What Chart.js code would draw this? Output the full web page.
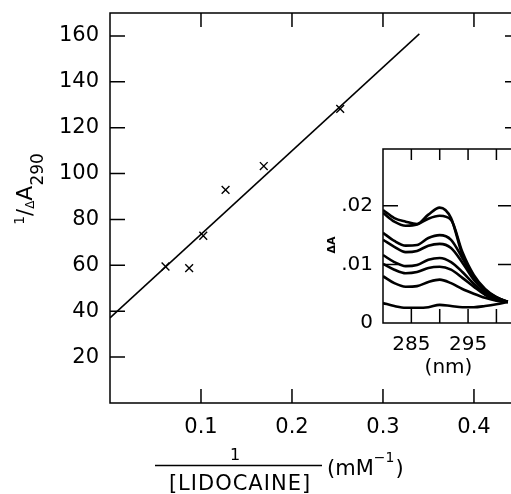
<!DOCTYPE html>
<html>
<head>
<meta charset="utf-8">
<script src="https://cdn.jsdelivr.net/npm/chart.js@4/dist/chart.umd.min.js"></script>
<style>
    html, body { margin: 0; padding: 0; background: #fff; overflow: hidden; width: 511px; height: 494px; }
    #main { position: absolute; left: 0; top: 0; }
    #inset { position: absolute; left: 310px; top: 145px; }
</style>
</head>
<body>
<canvas id="main" width="530" height="494"></canvas>
<canvas id="inset" width="220" height="235"></canvas>
<script>
// main plot: 1/dA290 vs 1/[lidocaine]
const recipConc = [0.061, 0.087, 0.1025, 0.127, 0.169, 0.253];
const recipAbs = [59.5, 58.8, 72.9, 92.9, 103.3, 128.2];
const fitConc = [0, 0.34];
const fitAbs = [37.1, 160.9];
const xTickVals = [0.1, 0.2, 0.3, 0.4];
const yTickVals = [20, 40, 60, 80, 100, 120, 140, 160];

// inset: difference spectra
const wavelengths = [280, 282, 284, 286, 288, 290, 292, 294, 296, 298, 300, 302];
const spec1 = [0.0193, 0.0179, 0.0173, 0.0169, 0.0185, 0.0197, 0.0179, 0.0116, 0.0077, 0.0055, 0.0043, 0.0036];
const spec2 = [0.0188, 0.0173, 0.0166, 0.0168, 0.0178, 0.0183, 0.0176, 0.0121, 0.0082, 0.0058, 0.0044, 0.0036];
const spec3 = [0.0154, 0.0140, 0.0132, 0.0133, 0.0145, 0.0150, 0.0142, 0.0111, 0.0079, 0.0056, 0.0044, 0.0036];
const spec4 = [0.0142, 0.0130, 0.0121, 0.0123, 0.0132, 0.0135, 0.0128, 0.0103, 0.0074, 0.0055, 0.0043, 0.0036];
const spec5 = [0.0116, 0.0104, 0.0097, 0.0099, 0.0108, 0.0111, 0.0104, 0.0087, 0.0067, 0.0051, 0.0041, 0.0036];
const spec6 = [0.0101, 0.0091, 0.0085, 0.0087, 0.0094, 0.0096, 0.0091, 0.0077, 0.0062, 0.0048, 0.0039, 0.0036];
const spec7 = [0.0080, 0.0068, 0.0062, 0.0063, 0.0070, 0.0074, 0.0068, 0.0058, 0.0050, 0.0043, 0.0038, 0.0036];
const spec8 = [0.0034, 0.0029, 0.0026, 0.0026, 0.0027, 0.0031, 0.0029, 0.0027, 0.0027, 0.0029, 0.0032, 0.0036];
const insetXTicks = [285, 290, 295, 300];
const insetXLabels = ['285', '', '295', ''];
const insetYTicks = [0, 0.01, 0.02];
const insetYLabels = ['0', '.01', '.02'];

const FONT = 'DejaVu Sans';

// no extra padding for labels near the edges
function noPad(s) {
    s.paddingTop = 0; s.paddingBottom = 0; s.paddingLeft = 0; s.paddingRight = 0;
}

// frame + ticks pointing inward
const innerTicks = {
    id: 'innerTicks',
    afterDraw(chart, args, o) {
        const { ctx, chartArea: a, scales: { x, y } } = chart;
        ctx.save();
        ctx.strokeStyle = '#000';
        ctx.lineWidth = 1.5;
        ctx.beginPath();
        ctx.rect(a.left, a.top, a.right - a.left, a.bottom - a.top);
        o.xTicks.forEach(v => {
            const px = x.getPixelForValue(v);
            ctx.moveTo(px, a.bottom); ctx.lineTo(px, a.bottom - o.bottomLen);
            ctx.moveTo(px, a.top); ctx.lineTo(px, a.top + o.topLen);
        });
        o.yTicks.forEach(v => {
            if (v === 0) return;
            const py = y.getPixelForValue(v);
            ctx.moveTo(a.left, py); ctx.lineTo(a.left + o.leftLen, py);
            ctx.moveTo(a.right, py); ctx.lineTo(a.right - o.rightLen, py);
        });
        ctx.stroke();
        ctx.restore();
    }
};

// draw text made of runs with different sizes / offsets
function drawRuns(ctx, runs, cx, cy) {
    let total = 0;
    runs.forEach(r => { ctx.font = r.s + 'px "' + FONT + '"'; r.w = ctx.measureText(r.t).width; total += r.w; });
    let xx = cx - total / 2;
    runs.forEach(r => {
        ctx.font = r.s + 'px "' + FONT + '"';
        ctx.fillText(r.t, xx, cy + (r.dy || 0));
        xx += r.w;
    });
}

const axisTitles = {
    id: 'axisTitles',
    afterDraw(chart) {
        const ctx = chart.ctx;
        ctx.save();
        ctx.fillStyle = '#000';
        ctx.strokeStyle = '#000';
        ctx.textBaseline = 'alphabetic';
        ctx.textAlign = 'left';

        // y title, rotated
        ctx.save();
        ctx.translate(32, 189);
        ctx.rotate(-Math.PI / 2);
        drawRuns(ctx, [
            { t: '1', s: 14, dy: -8 },
            { t: '/', s: 21 },
            { t: 'Δ', s: 12, dy: 2 },
            { t: 'A', s: 22 },
            { t: '290', s: 17, dy: 11 }
        ], 0, 0);
        ctx.restore();

        // x title as a fraction
        ctx.textAlign = 'center';
        ctx.font = '16px "' + FONT + '"';
        ctx.fillText('1', 235, 460);
        ctx.lineWidth = 1.5;
        ctx.beginPath();
        ctx.moveTo(155, 465.5); ctx.lineTo(322, 465.5);
        ctx.stroke();
        ctx.font = '21px "' + FONT + '"';
        ctx.letterSpacing = '1px';
        ctx.fillText('[LIDOCAINE]', 240, 490);
        ctx.letterSpacing = '0px';
        ctx.textAlign = 'left';
        ctx.font = '21px "' + FONT + '"';
        ctx.fillText('(mM', 327, 475);
        let w = ctx.measureText('(mM').width;
        ctx.font = '14px "' + FONT + '"';
        ctx.fillText('−1', 327 + w, 462);
        w += ctx.measureText('−1').width;
        ctx.font = '21px "' + FONT + '"';
        ctx.fillText(')', 327 + w + 1, 475);
        ctx.restore();
    }
};

new Chart(document.getElementById('main'), {
    type: 'scatter',
    data: {
        datasets: [
            {
                data: fitConc.map((v, i) => ({ x: v, y: fitAbs[i] })),
                showLine: true,
                borderColor: '#000',
                borderWidth: 1.5,
                pointRadius: 0
            },
            {
                data: recipConc.map((v, i) => ({ x: v, y: recipAbs[i] })),
                pointStyle: 'crossRot',
                pointRadius: 5.5,
                borderColor: '#000',
                borderWidth: 1.4
            }
        ]
    },
    options: {
        responsive: false,
        animation: false,
        layout: { padding: { top: 13, right: 16, left: 0, bottom: 0 } },
        plugins: {
            legend: { display: false },
            tooltip: { enabled: false },
            innerTicks: { xTicks: xTickVals, yTicks: yTickVals, bottomLen: 14, topLen: 14, leftLen: 15, rightLen: 9 }
        },
        scales: {
            x: {
                type: 'linear', min: 0, max: 0.444,
                afterBuildTicks: s => { s.ticks = xTickVals.map(v => ({ value: v })); },
                afterFit: s => { s.height = 91; noPad(s); },
                grid: { display: false, drawTicks: false },
                border: { display: false },
                ticks: {
                    color: '#000', font: { family: FONT, size: 21 }, padding: 12,
                    autoSkip: false, maxRotation: 0,
                    callback: v => v.toFixed(1)
                }
            },
            y: {
                type: 'linear', min: 0, max: 170,
                afterBuildTicks: s => { s.ticks = yTickVals.map(v => ({ value: v })); },
                afterFit: s => { s.width = 110; noPad(s); },
                grid: { display: false, drawTicks: false },
                border: { display: false },
                ticks: {
                    color: '#000', font: { family: FONT, size: 21 }, padding: 11,
                    autoSkip: false,
                    callback: v => String(v)
                }
            }
        }
    },
    plugins: [innerTicks, axisTitles]
});

const whiteBg = {
    id: 'whiteBg',
    beforeDraw(chart) {
        const ctx = chart.ctx;
        ctx.save();
        ctx.fillStyle = '#fff';
        ctx.fillRect(0, 0, chart.width, chart.height);
        ctx.restore();
    }
};

const insetTitles = {
    id: 'insetTitles',
    afterDraw(chart) {
        const ctx = chart.ctx;
        ctx.save();
        ctx.fillStyle = '#000';
        ctx.textAlign = 'center';
        ctx.textBaseline = 'middle';
        ctx.font = 'bold 11px "' + FONT + '"';
        ctx.translate(22, 100);
        ctx.rotate(-Math.PI / 2);
        ctx.fillText('ΔA', 0, 0);
        ctx.restore();
    }
};

const specSets = [spec1, spec2, spec3, spec4, spec5, spec6, spec7, spec8];

new Chart(document.getElementById('inset'), {
    type: 'line',
    data: {
        datasets: specSets.map(s => ({
            data: wavelengths.map((w, i) => ({ x: w, y: s[i] })),
            borderColor: '#000',
            borderWidth: 2.6,
            pointRadius: 0,
            cubicInterpolationMode: 'monotone',
            fill: false
        }))
    },
    options: {
        responsive: false,
        animation: false,
        layout: { padding: { top: 4, right: 16, left: 0, bottom: 0 } },
        plugins: {
            legend: { display: false },
            tooltip: { enabled: false },
            innerTicks: { xTicks: insetXTicks, yTicks: insetYTicks, bottomLen: 14, topLen: 11, leftLen: 15, rightLen: 16 }
        },
        scales: {
            x: {
                type: 'linear', min: 280, max: 303.1,
                afterBuildTicks: s => { s.ticks = insetXTicks.map(v => ({ value: v })); },
                afterFit: s => { s.height = 57; noPad(s); },
                grid: { display: false, drawTicks: false },
                border: { display: false },
                ticks: {
                    color: '#000', font: { family: FONT, size: 20 }, padding: 10,
                    autoSkip: false, maxRotation: 0,
                    callback: (v, i) => insetXLabels[i]
                },
                title: { display: true, text: '(nm)', color: '#000', font: { family: FONT, size: 20 }, padding: { top: -6, bottom: 0 } }
            },
            y: {
                type: 'linear', min: 0, max: 0.0297,
                afterBuildTicks: s => { s.ticks = insetYTicks.map(v => ({ value: v })); },
                afterFit: s => { s.width = 73; noPad(s); },
                grid: { display: false, drawTicks: false },
                border: { display: false },
                ticks: {
                    color: '#000', font: { family: FONT, size: 20 }, padding: 10,
                    autoSkip: false,
                    callback: (v, i) => insetYLabels[i]
                }
            }
        }
    },
    plugins: [whiteBg, innerTicks, insetTitles]
});
</script>
</body>
</html>
